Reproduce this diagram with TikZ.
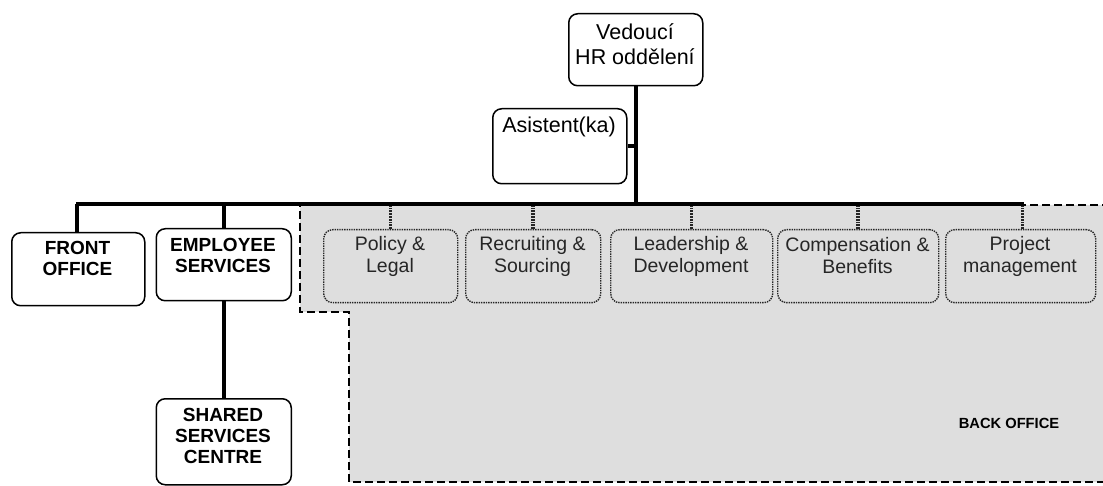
\documentclass[tikz,border=0pt]{standalone}
\usepackage{fontspec}
\setmainfont{Liberation Sans}
\begin{document}
\begin{tikzpicture}[x=1pt,y=-1pt,
  box/.style={draw=black, line width=1.5pt, rounded corners=9pt, fill=white, inner sep=0pt, anchor=north west},
  subbox/.style={draw=black!85, line width=1.4pt, densely dotted, rounded corners=9pt, inner sep=0pt, anchor=north west},
  maintxt/.style={font=\fontsize{21.5}{25}\selectfont, align=center, inner sep=0pt},
  boldtxt/.style={font=\fontsize{19}{21}\selectfont\bfseries, align=center, inner sep=0pt},
  subtxt/.style={font=\fontsize{19.5}{22}\selectfont, text=black!85, align=center, inner sep=0pt},
  conn/.style={line width=4.5pt},
  subconn/.style={line width=3.5pt, black!85, dash pattern=on 1.8pt off 1pt},
  bodash/.style={line width=1.7pt, dash pattern=on 8pt off 4pt}
]
\useasboundingbox (0,0) rectangle (1103,486);
% back office area
\fill[black!13] (300,205) -- (1103,205) -- (1103,482) -- (349,482) -- (349,312) -- (300,312) -- cycle;
\draw[bodash] (1110,205) -- (300,205) -- (300,312) -- (349,312) -- (349,482) -- (1110,482);
\node[font=\fontsize{14.7}{16}\selectfont\bfseries, inner sep=0pt] (bo) at (1009,423) {BACK OFFICE};

% nodes
\node[box, minimum width=134pt, minimum height=72pt] (boss) at (568,13) {};
\node[maintxt] (bosst) at (635,44) {Vedoucí\\HR oddělení};
\node[box, minimum width=134pt, minimum height=75pt] (asst) at (492,108) {};
\node[maintxt] (asstt) at (559,127) {Asistent(ka)};

\node[box, minimum width=133pt, minimum height=73pt] (fo) at (11,232) {};
\node[boldtxt] (fot) at (77.5,258.5) {FRONT\\OFFICE};
\node[box, minimum width=135pt, minimum height=72pt] (es) at (155.5,228) {};
\node[boldtxt] (est) at (223,255.5) {EMPLOYEE\\SERVICES};
\node[box, minimum width=135pt, minimum height=86pt] (ssc) at (155.5,398) {};
\node[boldtxt] (ssct) at (223,436) {SHARED\\SERVICES\\CENTRE};

\node[subbox, minimum width=134pt, minimum height=73pt] (pl) at (323,229) {};
\node[subtxt] (plt) at (390,256) {Policy \&\\Legal};
\node[subbox, minimum width=135pt, minimum height=73pt] (rs) at (465,229) {};
\node[subtxt] (rst) at (532.5,256) {Recruiting \&\\Sourcing};
\node[subbox, minimum width=162pt, minimum height=73pt] (ld) at (610,229) {};
\node[subtxt] (ldt) at (691,256) {Leadership \&\\Development};
\node[subbox, minimum width=161pt, minimum height=73pt] (cb) at (777,229) {};
\node[subtxt] (cbt) at (857.5,256) {Compensation \&\\Benefits};
\node[subbox, minimum width=150pt, minimum height=73pt] (pm) at (945,229) {};
\node[subtxt] (pmt) at (1020,256) {Project\\management};

% connectors
\coordinate (busL) at (76,204);
\coordinate (busR) at (1024,204);
\draw[subconn] (pl.north) -- (pl.north |- busL);
\draw[subconn] (rs.north) -- (rs.north |- busL);
\draw[subconn] (ld.north) -- (ld.north |- busL);
\draw[subconn] (cb.north) -- (cb.north |- busL);
\draw[subconn] ([xshift=2pt]pm.north) -- ([xshift=2pt]pm.north |- busL);
\draw[conn] (busL) -- (busR);
\draw[conn] (boss.south) -- (boss.south |- busL);
\draw[conn] (asst.east) -- (asst.east -| boss.south);
\draw[conn] ([xshift=-1.5pt]fo.north) -- ([xshift=-1.5pt]fo.north |- busL);
\draw[conn] (es.north) -- (es.north |- busL);
\draw[conn] (es.south) -- (ssc.north);
\end{tikzpicture}
\end{document}
